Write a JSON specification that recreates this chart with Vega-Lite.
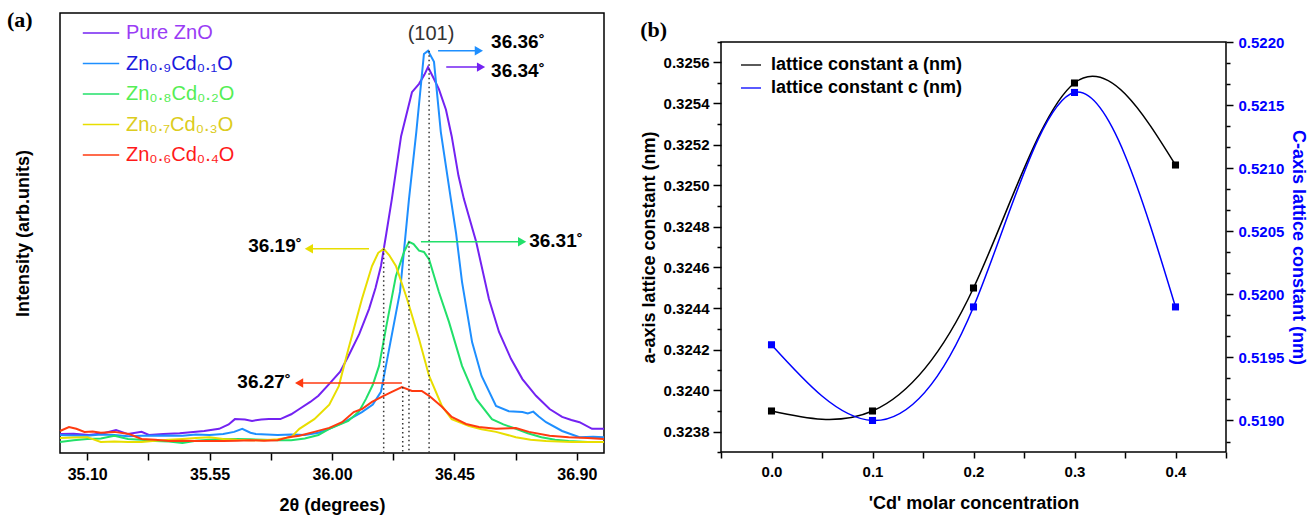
{
  "$schema": "https://vega.github.io/schema/vega-lite/v6.json",
  "background": "white",
  "padding": {"left": 6, "top": 8, "right": 0, "bottom": 0},
  "spacing": 30,
  "config": {
    "font": "Liberation Sans",
    "view": {"stroke": "#000", "strokeWidth": 1.5},
    "axis": {"grid": false, "domain": false, "tickColor": "#000", "tickWidth": 1.5, "labelColor": "#000", "labelFont": "Liberation Sans", "labelFontWeight": "bold", "labelFontSize": 15, "titleFont": "Liberation Sans", "titleFontWeight": "bold", "titleFontSize": 18, "titleColor": "#000"}
  },
  "resolve": {"scale": {"color": "independent"}, "legend": {"color": "independent"}},
  "datasets": {
    "xrd": [
      {"s":"Pure ZnO","x":35.00,"y":4.3},{"s":"Pure ZnO","x":35.05,"y":4.4},{"s":"Pure ZnO","x":35.107,"y":4.1},{"s":"Pure ZnO","x":35.16,"y":4.5},{"s":"Pure ZnO","x":35.206,"y":5.2},{"s":"Pure ZnO","x":35.25,"y":4.3},{"s":"Pure ZnO","x":35.30,"y":4.8},{"s":"Pure ZnO","x":35.327,"y":4.1},{"s":"Pure ZnO","x":35.38,"y":4.3},{"s":"Pure ZnO","x":35.44,"y":4.5},{"s":"Pure ZnO","x":35.49,"y":4.8},{"s":"Pure ZnO","x":35.53,"y":5.0},{"s":"Pure ZnO","x":35.585,"y":5.5},{"s":"Pure ZnO","x":35.62,"y":6.5},{"s":"Pure ZnO","x":35.643,"y":7.7},{"s":"Pure ZnO","x":35.68,"y":7.6},{"s":"Pure ZnO","x":35.706,"y":7.3},{"s":"Pure ZnO","x":35.74,"y":7.6},{"s":"Pure ZnO","x":35.768,"y":7.7},{"s":"Pure ZnO","x":35.81,"y":7.7},{"s":"Pure ZnO","x":35.85,"y":8.8},{"s":"Pure ZnO","x":35.88,"y":10.0},{"s":"Pure ZnO","x":35.92,"y":11.6},{"s":"Pure ZnO","x":35.95,"y":13.0},{"s":"Pure ZnO","x":35.99,"y":15.7},{"s":"Pure ZnO","x":36.03,"y":18.5},{"s":"Pure ZnO","x":36.06,"y":22.0},{"s":"Pure ZnO","x":36.10,"y":27.0},{"s":"Pure ZnO","x":36.136,"y":32.7},{"s":"Pure ZnO","x":36.16,"y":37.5},{"s":"Pure ZnO","x":36.18,"y":42.5},{"s":"Pure ZnO","x":36.20,"y":50.0},{"s":"Pure ZnO","x":36.22,"y":57.7},{"s":"Pure ZnO","x":36.254,"y":72.0},{"s":"Pure ZnO","x":36.294,"y":82.0},{"s":"Pure ZnO","x":36.32,"y":83.9},{"s":"Pure ZnO","x":36.34,"y":86.0},{"s":"Pure ZnO","x":36.353,"y":87.7},{"s":"Pure ZnO","x":36.375,"y":85.0},{"s":"Pure ZnO","x":36.393,"y":82.7},{"s":"Pure ZnO","x":36.419,"y":78.0},{"s":"Pure ZnO","x":36.44,"y":72.0},{"s":"Pure ZnO","x":36.465,"y":63.0},{"s":"Pure ZnO","x":36.485,"y":57.7},{"s":"Pure ZnO","x":36.53,"y":48.0},{"s":"Pure ZnO","x":36.577,"y":35.0},{"s":"Pure ZnO","x":36.614,"y":27.5},{"s":"Pure ZnO","x":36.658,"y":21.4},{"s":"Pure ZnO","x":36.70,"y":16.8},{"s":"Pure ZnO","x":36.75,"y":13.0},{"s":"Pure ZnO","x":36.80,"y":10.0},{"s":"Pure ZnO","x":36.846,"y":8.2},{"s":"Pure ZnO","x":36.88,"y":7.5},{"s":"Pure ZnO","x":36.91,"y":7.0},{"s":"Pure ZnO","x":36.956,"y":5.5},{"s":"Pure ZnO","x":37.00,"y":5.5},
      {"s":"Zn₀.₉Cd₀.₁O","x":35.00,"y":4.1},{"s":"Zn₀.₉Cd₀.₁O","x":35.05,"y":4.0},{"s":"Zn₀.₉Cd₀.₁O","x":35.10,"y":3.9},{"s":"Zn₀.₉Cd₀.₁O","x":35.15,"y":4.2},{"s":"Zn₀.₉Cd₀.₁O","x":35.20,"y":4.1},{"s":"Zn₀.₉Cd₀.₁O","x":35.25,"y":3.8},{"s":"Zn₀.₉Cd₀.₁O","x":35.30,"y":3.9},{"s":"Zn₀.₉Cd₀.₁O","x":35.38,"y":4.0},{"s":"Zn₀.₉Cd₀.₁O","x":35.45,"y":3.9},{"s":"Zn₀.₉Cd₀.₁O","x":35.50,"y":4.2},{"s":"Zn₀.₉Cd₀.₁O","x":35.55,"y":4.1},{"s":"Zn₀.₉Cd₀.₁O","x":35.60,"y":4.3},{"s":"Zn₀.₉Cd₀.₁O","x":35.64,"y":4.8},{"s":"Zn₀.₉Cd₀.₁O","x":35.67,"y":5.5},{"s":"Zn₀.₉Cd₀.₁O","x":35.70,"y":4.6},{"s":"Zn₀.₉Cd₀.₁O","x":35.72,"y":4.3},{"s":"Zn₀.₉Cd₀.₁O","x":35.76,"y":4.2},{"s":"Zn₀.₉Cd₀.₁O","x":35.80,"y":4.1},{"s":"Zn₀.₉Cd₀.₁O","x":35.85,"y":4.2},{"s":"Zn₀.₉Cd₀.₁O","x":35.90,"y":4.1},{"s":"Zn₀.₉Cd₀.₁O","x":35.95,"y":4.6},{"s":"Zn₀.₉Cd₀.₁O","x":35.99,"y":5.5},{"s":"Zn₀.₉Cd₀.₁O","x":36.05,"y":7.2},{"s":"Zn₀.₉Cd₀.₁O","x":36.11,"y":9.3},{"s":"Zn₀.₉Cd₀.₁O","x":36.15,"y":11.0},{"s":"Zn₀.₉Cd₀.₁O","x":36.18,"y":13.9},{"s":"Zn₀.₉Cd₀.₁O","x":36.21,"y":23.6},{"s":"Zn₀.₉Cd₀.₁O","x":36.25,"y":36.6},{"s":"Zn₀.₉Cd₀.₁O","x":36.283,"y":57.7},{"s":"Zn₀.₉Cd₀.₁O","x":36.31,"y":73.0},{"s":"Zn₀.₉Cd₀.₁O","x":36.338,"y":90.7},{"s":"Zn₀.₉Cd₀.₁O","x":36.353,"y":91.4},{"s":"Zn₀.₉Cd₀.₁O","x":36.375,"y":88.9},{"s":"Zn₀.₉Cd₀.₁O","x":36.40,"y":73.0},{"s":"Zn₀.₉Cd₀.₁O","x":36.437,"y":57.7},{"s":"Zn₀.₉Cd₀.₁O","x":36.456,"y":50.0},{"s":"Zn₀.₉Cd₀.₁O","x":36.478,"y":38.9},{"s":"Zn₀.₉Cd₀.₁O","x":36.515,"y":25.2},{"s":"Zn₀.₉Cd₀.₁O","x":36.55,"y":17.5},{"s":"Zn₀.₉Cd₀.₁O","x":36.603,"y":10.7},{"s":"Zn₀.₉Cd₀.₁O","x":36.65,"y":9.5},{"s":"Zn₀.₉Cd₀.₁O","x":36.70,"y":9.3},{"s":"Zn₀.₉Cd₀.₁O","x":36.72,"y":9.0},{"s":"Zn₀.₉Cd₀.₁O","x":36.74,"y":9.4},{"s":"Zn₀.₉Cd₀.₁O","x":36.76,"y":8.3},{"s":"Zn₀.₉Cd₀.₁O","x":36.787,"y":7.0},{"s":"Zn₀.₉Cd₀.₁O","x":36.846,"y":5.0},{"s":"Zn₀.₉Cd₀.₁O","x":36.91,"y":3.6},{"s":"Zn₀.₉Cd₀.₁O","x":36.96,"y":3.7},{"s":"Zn₀.₉Cd₀.₁O","x":37.00,"y":3.6},
      {"s":"Zn₀.₈Cd₀.₂O","x":35.00,"y":2.5},{"s":"Zn₀.₈Cd₀.₂O","x":35.05,"y":2.9},{"s":"Zn₀.₈Cd₀.₂O","x":35.10,"y":3.2},{"s":"Zn₀.₈Cd₀.₂O","x":35.15,"y":3.3},{"s":"Zn₀.₈Cd₀.₂O","x":35.20,"y":3.9},{"s":"Zn₀.₈Cd₀.₂O","x":35.25,"y":3.2},{"s":"Zn₀.₈Cd₀.₂O","x":35.30,"y":3.0},{"s":"Zn₀.₈Cd₀.₂O","x":35.35,"y":2.7},{"s":"Zn₀.₈Cd₀.₂O","x":35.40,"y":2.6},{"s":"Zn₀.₈Cd₀.₂O","x":35.45,"y":2.3},{"s":"Zn₀.₈Cd₀.₂O","x":35.50,"y":2.8},{"s":"Zn₀.₈Cd₀.₂O","x":35.55,"y":3.0},{"s":"Zn₀.₈Cd₀.₂O","x":35.60,"y":3.2},{"s":"Zn₀.₈Cd₀.₂O","x":35.65,"y":3.2},{"s":"Zn₀.₈Cd₀.₂O","x":35.70,"y":3.1},{"s":"Zn₀.₈Cd₀.₂O","x":35.75,"y":3.0},{"s":"Zn₀.₈Cd₀.₂O","x":35.80,"y":2.9},{"s":"Zn₀.₈Cd₀.₂O","x":35.85,"y":2.9},{"s":"Zn₀.₈Cd₀.₂O","x":35.90,"y":3.3},{"s":"Zn₀.₈Cd₀.₂O","x":35.95,"y":4.1},{"s":"Zn₀.₈Cd₀.₂O","x":35.99,"y":5.5},{"s":"Zn₀.₈Cd₀.₂O","x":36.06,"y":7.3},{"s":"Zn₀.₈Cd₀.₂O","x":36.10,"y":9.5},{"s":"Zn₀.₈Cd₀.₂O","x":36.125,"y":12.3},{"s":"Zn₀.₈Cd₀.₂O","x":36.15,"y":15.5},{"s":"Zn₀.₈Cd₀.₂O","x":36.173,"y":19.8},{"s":"Zn₀.₈Cd₀.₂O","x":36.20,"y":28.9},{"s":"Zn₀.₈Cd₀.₂O","x":36.235,"y":40.2},{"s":"Zn₀.₈Cd₀.₂O","x":36.265,"y":45.7},{"s":"Zn₀.₈Cd₀.₂O","x":36.283,"y":48.0},{"s":"Zn₀.₈Cd₀.₂O","x":36.30,"y":47.5},{"s":"Zn₀.₈Cd₀.₂O","x":36.32,"y":46.0},{"s":"Zn₀.₈Cd₀.₂O","x":36.338,"y":45.7},{"s":"Zn₀.₈Cd₀.₂O","x":36.357,"y":44.0},{"s":"Zn₀.₈Cd₀.₂O","x":36.393,"y":36.6},{"s":"Zn₀.₈Cd₀.₂O","x":36.43,"y":29.8},{"s":"Zn₀.₈Cd₀.₂O","x":36.478,"y":19.8},{"s":"Zn₀.₈Cd₀.₂O","x":36.53,"y":12.3},{"s":"Zn₀.₈Cd₀.₂O","x":36.588,"y":7.7},{"s":"Zn₀.₈Cd₀.₂O","x":36.63,"y":6.5},{"s":"Zn₀.₈Cd₀.₂O","x":36.676,"y":5.5},{"s":"Zn₀.₈Cd₀.₂O","x":36.72,"y":4.5},{"s":"Zn₀.₈Cd₀.₂O","x":36.77,"y":3.6},{"s":"Zn₀.₈Cd₀.₂O","x":36.82,"y":3.0},{"s":"Zn₀.₈Cd₀.₂O","x":36.87,"y":2.7},{"s":"Zn₀.₈Cd₀.₂O","x":36.94,"y":2.5},{"s":"Zn₀.₈Cd₀.₂O","x":37.00,"y":2.5},
      {"s":"Zn₀.₇Cd₀.₃O","x":35.00,"y":3.4},{"s":"Zn₀.₇Cd₀.₃O","x":35.05,"y":3.5},{"s":"Zn₀.₇Cd₀.₃O","x":35.10,"y":3.6},{"s":"Zn₀.₇Cd₀.₃O","x":35.15,"y":2.5},{"s":"Zn₀.₇Cd₀.₃O","x":35.20,"y":2.6},{"s":"Zn₀.₇Cd₀.₃O","x":35.25,"y":2.5},{"s":"Zn₀.₇Cd₀.₃O","x":35.30,"y":2.5},{"s":"Zn₀.₇Cd₀.₃O","x":35.35,"y":2.8},{"s":"Zn₀.₇Cd₀.₃O","x":35.40,"y":3.0},{"s":"Zn₀.₇Cd₀.₃O","x":35.45,"y":3.2},{"s":"Zn₀.₇Cd₀.₃O","x":35.50,"y":3.4},{"s":"Zn₀.₇Cd₀.₃O","x":35.55,"y":3.6},{"s":"Zn₀.₇Cd₀.₃O","x":35.60,"y":3.2},{"s":"Zn₀.₇Cd₀.₃O","x":35.65,"y":3.0},{"s":"Zn₀.₇Cd₀.₃O","x":35.70,"y":2.9},{"s":"Zn₀.₇Cd₀.₃O","x":35.75,"y":2.9},{"s":"Zn₀.₇Cd₀.₃O","x":35.80,"y":3.1},{"s":"Zn₀.₇Cd₀.₃O","x":35.85,"y":3.6},{"s":"Zn₀.₇Cd₀.₃O","x":35.88,"y":5.5},{"s":"Zn₀.₇Cd₀.₃O","x":35.935,"y":7.7},{"s":"Zn₀.₇Cd₀.₃O","x":35.99,"y":11.0},{"s":"Zn₀.₇Cd₀.₃O","x":36.025,"y":15.2},{"s":"Zn₀.₇Cd₀.₃O","x":36.06,"y":23.6},{"s":"Zn₀.₇Cd₀.₃O","x":36.11,"y":35.0},{"s":"Zn₀.₇Cd₀.₃O","x":36.147,"y":42.5},{"s":"Zn₀.₇Cd₀.₃O","x":36.17,"y":45.5},{"s":"Zn₀.₇Cd₀.₃O","x":36.19,"y":46.4},{"s":"Zn₀.₇Cd₀.₃O","x":36.21,"y":45.0},{"s":"Zn₀.₇Cd₀.₃O","x":36.235,"y":42.5},{"s":"Zn₀.₇Cd₀.₃O","x":36.276,"y":35.0},{"s":"Zn₀.₇Cd₀.₃O","x":36.32,"y":25.9},{"s":"Zn₀.₇Cd₀.₃O","x":36.357,"y":17.5},{"s":"Zn₀.₇Cd₀.₃O","x":36.404,"y":10.7},{"s":"Zn₀.₇Cd₀.₃O","x":36.44,"y":7.7},{"s":"Zn₀.₇Cd₀.₃O","x":36.504,"y":6.1},{"s":"Zn₀.₇Cd₀.₃O","x":36.55,"y":5.4},{"s":"Zn₀.₇Cd₀.₃O","x":36.603,"y":4.8},{"s":"Zn₀.₇Cd₀.₃O","x":36.676,"y":3.6},{"s":"Zn₀.₇Cd₀.₃O","x":36.73,"y":3.0},{"s":"Zn₀.₇Cd₀.₃O","x":36.787,"y":2.7},{"s":"Zn₀.₇Cd₀.₃O","x":36.88,"y":2.5},{"s":"Zn₀.₇Cd₀.₃O","x":37.00,"y":2.5},
      {"s":"Zn₀.₆Cd₀.₄O","x":35.00,"y":5.0},{"s":"Zn₀.₆Cd₀.₄O","x":35.033,"y":5.9},{"s":"Zn₀.₆Cd₀.₄O","x":35.06,"y":5.5},{"s":"Zn₀.₆Cd₀.₄O","x":35.09,"y":4.8},{"s":"Zn₀.₆Cd₀.₄O","x":35.12,"y":4.9},{"s":"Zn₀.₆Cd₀.₄O","x":35.15,"y":4.6},{"s":"Zn₀.₆Cd₀.₄O","x":35.20,"y":4.8},{"s":"Zn₀.₆Cd₀.₄O","x":35.254,"y":4.3},{"s":"Zn₀.₆Cd₀.₄O","x":35.30,"y":3.2},{"s":"Zn₀.₆Cd₀.₄O","x":35.35,"y":3.0},{"s":"Zn₀.₆Cd₀.₄O","x":35.40,"y":2.7},{"s":"Zn₀.₆Cd₀.₄O","x":35.45,"y":2.8},{"s":"Zn₀.₆Cd₀.₄O","x":35.50,"y":2.7},{"s":"Zn₀.₆Cd₀.₄O","x":35.55,"y":2.7},{"s":"Zn₀.₆Cd₀.₄O","x":35.60,"y":2.7},{"s":"Zn₀.₆Cd₀.₄O","x":35.65,"y":2.8},{"s":"Zn₀.₆Cd₀.₄O","x":35.70,"y":2.9},{"s":"Zn₀.₆Cd₀.₄O","x":35.75,"y":2.8},{"s":"Zn₀.₆Cd₀.₄O","x":35.80,"y":2.9},{"s":"Zn₀.₆Cd₀.₄O","x":35.84,"y":3.6},{"s":"Zn₀.₆Cd₀.₄O","x":35.88,"y":3.9},{"s":"Zn₀.₆Cd₀.₄O","x":35.935,"y":4.8},{"s":"Zn₀.₆Cd₀.₄O","x":35.99,"y":5.7},{"s":"Zn₀.₆Cd₀.₄O","x":36.037,"y":7.0},{"s":"Zn₀.₆Cd₀.₄O","x":36.08,"y":9.3},{"s":"Zn₀.₆Cd₀.₄O","x":36.11,"y":10.0},{"s":"Zn₀.₆Cd₀.₄O","x":36.147,"y":11.6},{"s":"Zn₀.₆Cd₀.₄O","x":36.19,"y":13.0},{"s":"Zn₀.₆Cd₀.₄O","x":36.22,"y":13.9},{"s":"Zn₀.₆Cd₀.₄O","x":36.257,"y":15.0},{"s":"Zn₀.₆Cd₀.₄O","x":36.294,"y":14.1},{"s":"Zn₀.₆Cd₀.₄O","x":36.33,"y":14.1},{"s":"Zn₀.₆Cd₀.₄O","x":36.357,"y":13.0},{"s":"Zn₀.₆Cd₀.₄O","x":36.404,"y":10.5},{"s":"Zn₀.₆Cd₀.₄O","x":36.44,"y":8.2},{"s":"Zn₀.₆Cd₀.₄O","x":36.493,"y":6.6},{"s":"Zn₀.₆Cd₀.₄O","x":36.54,"y":5.9},{"s":"Zn₀.₆Cd₀.₄O","x":36.603,"y":5.5},{"s":"Zn₀.₆Cd₀.₄O","x":36.676,"y":5.7},{"s":"Zn₀.₆Cd₀.₄O","x":36.724,"y":4.8},{"s":"Zn₀.₆Cd₀.₄O","x":36.80,"y":3.9},{"s":"Zn₀.₆Cd₀.₄O","x":36.87,"y":3.6},{"s":"Zn₀.₆Cd₀.₄O","x":36.94,"y":3.4},{"s":"Zn₀.₆Cd₀.₄O","x":37.00,"y":3.2}
    ],
    "ann": [
      {"s":"Zn₀.₉Cd₀.₁O","x1":36.39,"x2":36.545,"hx":36.54,"y":91.4,"dir":"right","label":"36.36˚","lx":36.585,"ly":93.4},
      {"s":"Pure ZnO","x1":36.42,"x2":36.55,"hx":36.548,"y":87.7,"dir":"right","label":"36.34˚","lx":36.585,"ly":86.8},
      {"s":"Zn₀.₈Cd₀.₂O","x1":36.327,"x2":36.70,"hx":36.699,"y":48.0,"dir":"right","label":"36.31˚","lx":36.725,"ly":48.2},
      {"s":"Zn₀.₇Cd₀.₃O","x1":36.136,"x2":35.915,"hx":35.915,"y":46.4,"dir":"left","label":"36.19˚","lx":35.89,"ly":47.0},
      {"s":"Zn₀.₆Cd₀.₄O","x1":36.257,"x2":35.88,"hx":35.879,"y":15.9,"dir":"left","label":"36.27˚","lx":35.85,"ly":16.1}
    ],
    "drop": [
      {"x":36.19,"y":46.4},{"x":36.26,"y":15.0},{"x":36.283,"y":48.0},{"x":36.357,"y":91.4}
    ],
    "lat": [
      {"conc":0.0,"p":"a","name":"lattice constant a (nm)","v":0.3239},
      {"conc":0.1,"p":"a","name":"lattice constant a (nm)","v":0.3239},
      {"conc":0.2,"p":"a","name":"lattice constant a (nm)","v":0.3245},
      {"conc":0.3,"p":"a","name":"lattice constant a (nm)","v":0.3255},
      {"conc":0.4,"p":"a","name":"lattice constant a (nm)","v":0.3251},
      {"conc":0.0,"p":"c","name":"lattice constant c (nm)","v":0.5196},
      {"conc":0.1,"p":"c","name":"lattice constant c (nm)","v":0.5190},
      {"conc":0.2,"p":"c","name":"lattice constant c (nm)","v":0.5199},
      {"conc":0.3,"p":"c","name":"lattice constant c (nm)","v":0.5216},
      {"conc":0.4,"p":"c","name":"lattice constant c (nm)","v":0.5199}
    ]
  },
  "hconcat": [
    {
      "width": 544,
      "height": 440,
      "encoding": {
        "x": {"type": "quantitative", "scale": {"domain": [35.0, 37.0], "nice": false, "zero": false}},
        "y": {"type": "quantitative", "scale": {"domain": [0, 100], "nice": false}}
      },
      "layer": [
        {
          "data": {"name": "xrd"},
          "mark": {"type": "line", "strokeWidth": 2},
          "encoding": {
            "x": {"field": "x", "type": "quantitative", "axis": {"values": [35.1, 35.325, 35.55, 35.775, 36.0, 36.225, 36.45, 36.675, 36.9], "format": ".2f", "labelExpr": "indexof(['35.10','35.55','36.00','36.45','36.90'], datum.label) >= 0 ? datum.label : ''", "tickSize": 7, "labelPadding": 6, "labelFontSize": 16, "title": "2θ (degrees)", "titlePadding": 14}},
            "y": {"field": "y", "type": "quantitative", "axis": {"labels": false, "ticks": false, "title": "Intensity (arb.units)", "titlePadding": 28}},
            "color": {
              "field": "s", "type": "nominal",
              "scale": {"domain": ["Pure ZnO", "Zn₀.₉Cd₀.₁O", "Zn₀.₈Cd₀.₂O", "Zn₀.₇Cd₀.₃O", "Zn₀.₆Cd₀.₄O"], "range": ["#7322f2", "#1e8fff", "#22e06a", "#e8de00", "#ff3a10"]},
              "legend": {"orient": "none", "legendX": 26, "legendY": 5, "title": null, "symbolType": "M-1.3,0H1.3", "symbolSize": 784, "symbolStrokeWidth": 1.5, "labelFont": "Liberation Sans", "labelFontSize": 20, "labelFontWeight": "normal", "labelOffset": 10, "rowPadding": 5.5, "labelLimit": 300,
                "labelColor": {"expr": "datum.value == 'Pure ZnO' ? '#9a3cf5' : indexof(datum.value, '₉') >= 0 ? '#1a1add' : indexof(datum.value, '₈') >= 0 ? '#55ee55' : indexof(datum.value, '₇') >= 0 ? '#dccc20' : '#ff1a1a'"}}
            }
          }
        },
        {
          "data": {"name": "drop"},
          "mark": {"type": "rule", "color": "#333", "strokeWidth": 1.5, "strokeDash": [1.5, 3]},
          "encoding": {"x": {"field": "x"}, "y": {"field": "y"}, "y2": {"datum": 0}}
        },
        {
          "data": {"name": "ann"},
          "mark": {"type": "rule", "strokeWidth": 1.5},
          "encoding": {"x": {"field": "x1"}, "x2": {"field": "x2"}, "y": {"field": "y"}, "color": {"field": "s", "type": "nominal", "legend": null}}
        },
        {
          "data": {"name": "ann"},
          "mark": {"type": "point", "filled": true, "opacity": 1, "size": 90},
          "encoding": {
            "x": {"field": "hx"}, "y": {"field": "y"},
            "color": {"field": "s", "type": "nominal", "legend": null},
            "shape": {"field": "dir", "type": "nominal", "scale": {"domain": ["right", "left"], "range": ["triangle-right", "triangle-left"]}, "legend": null}
          }
        },
        {
          "data": {"name": "ann"},
          "transform": [{"filter": "datum.dir == 'right'"}],
          "mark": {"type": "text", "align": "left", "baseline": "middle", "fontSize": 19, "fontWeight": "bold", "font": "Liberation Sans", "color": "#000"},
          "encoding": {"x": {"field": "lx"}, "y": {"field": "ly"}, "text": {"field": "label"}}
        },
        {
          "data": {"name": "ann"},
          "transform": [{"filter": "datum.dir == 'left'"}],
          "mark": {"type": "text", "align": "right", "baseline": "middle", "fontSize": 19, "fontWeight": "bold", "font": "Liberation Sans", "color": "#000"},
          "encoding": {"x": {"field": "lx"}, "y": {"field": "ly"}, "text": {"field": "label"}}
        },
        {
          "data": {"values": [{"t": "(101)", "x": 36.364, "y": 95.2}]},
          "mark": {"type": "text", "align": "center", "baseline": "middle", "fontSize": 20, "font": "Liberation Sans", "color": "#333"},
          "encoding": {"x": {"field": "x"}, "y": {"field": "y"}, "text": {"field": "t"}}
        },
        {
          "data": {"values": [{"t": "(a)", "x": 34.805, "y": 96.8}]},
          "mark": {"type": "text", "align": "left", "baseline": "alphabetic", "fontSize": 22, "fontWeight": "bold", "font": "Liberation Serif", "color": "#000"},
          "encoding": {"x": {"field": "x"}, "y": {"field": "y"}, "text": {"field": "t"}}
        }
      ]
    },
    {
      "spacing": 2,
      "vconcat": [
        {
          "width": 505,
          "height": 3,
          "view": {"stroke": null},
          "data": {"values": []},
          "mark": "point"
        },
        {
          "width": 505,
          "height": 410,
          "data": {"name": "lat"},
          "encoding": {
            "x": {"field": "conc", "type": "quantitative", "scale": {"domain": [-0.05, 0.45], "nice": false, "zero": false},
              "axis": {"values": [-0.05, 0, 0.05, 0.1, 0.15, 0.2, 0.25, 0.3, 0.35, 0.4, 0.45], "labelExpr": "round(datum.value*20) % 2 == 0 ? format(datum.value, '.1f') : ''", "tickSize": 6, "labelPadding": 6, "title": "'Cd' molar concentration", "titlePadding": 15}}
          },
          "layer": [
            {
              "transform": [{"filter": "datum.p == 'a'"}],
              "encoding": {
                "y": {"field": "v", "type": "quantitative", "scale": {"domain": [0.3237, 0.3257], "nice": false, "zero": false},
                  "axis": {"orient": "left", "values": [0.3237,0.3238,0.3239,0.324,0.3241,0.3242,0.3243,0.3244,0.3245,0.3246,0.3247,0.3248,0.3249,0.325,0.3251,0.3252,0.3253,0.3254,0.3255,0.3256,0.3257], "labelExpr": "round(datum.value*10000) % 2 == 0 ? format(datum.value, '.4f') : ''", "tickSize": {"condition": {"test": "round(datum.value*10000) % 2 == 0", "value": 8}, "value": 4}, "labelPadding": 4, "title": "a-axis lattice constant (nm)", "titlePadding": 5}}
              },
              "layer": [
                {
                  "mark": {"type": "line", "interpolate": "natural", "strokeWidth": 1.5},
                  "encoding": {"color": {"field": "name", "type": "nominal", "scale": {"domain": ["lattice constant a (nm)", "lattice constant c (nm)"], "range": ["#000000", "#0000ff"]},
                    "legend": {"orient": "none", "legendX": 19, "legendY": 41, "title": null, "symbolType": "stroke", "symbolSize": 400, "symbolStrokeWidth": 1.3, "labelFont": "Liberation Sans", "labelFontSize": 18, "labelFontWeight": "bold", "labelColor": "#000", "labelOffset": 9, "rowPadding": 3, "labelLimit": 400}}}
                },
                {"mark": {"type": "square", "size": 50, "filled": true, "opacity": 1, "color": "#000"}},
                {
                  "data": {"values": [{"t": "(b)", "x": -0.13, "y": 0.325724}]},
                  "mark": {"type": "text", "align": "left", "baseline": "alphabetic", "fontSize": 22, "fontWeight": "bold", "font": "Liberation Serif", "color": "#000"},
                  "encoding": {"x": {"field": "x", "type": "quantitative"}, "y": {"field": "y", "type": "quantitative"}, "text": {"field": "t"}}
                }
              ]
            },
            {
              "transform": [{"filter": "datum.p == 'c'"}],
              "encoding": {
                "y": {"field": "v", "type": "quantitative", "scale": {"domain": [0.51875, 0.522], "nice": false, "zero": false},
                  "axis": {"orient": "right", "values": [0.518833,0.519,0.519167,0.519333,0.5195,0.519667,0.519833,0.52,0.520167,0.520333,0.5205,0.520667,0.520833,0.521,0.521167,0.521333,0.5215,0.521667,0.521833,0.522], "labelExpr": "abs(datum.value*2000 - round(datum.value*2000)) < 0.05 ? format(datum.value, '.4f') : ''", "tickSize": {"condition": {"test": "abs(datum.value*2000 - round(datum.value*2000)) < 0.05", "value": 7}, "value": 4}, "labelPadding": 5, "labelColor": "#0000ff", "title": "C-axis lattice constant (nm)", "titleColor": "#0000ff", "titlePadding": 5}}
              },
              "layer": [
                {
                  "mark": {"type": "line", "interpolate": "natural", "strokeWidth": 1.5},
                  "encoding": {"color": {"field": "name", "type": "nominal"}}
                },
                {"mark": {"type": "square", "size": 50, "filled": true, "opacity": 1, "color": "#0000ff"}}
              ]
            }
          ],
          "resolve": {"scale": {"y": "independent"}}
        }
      ]
    }
  ]
}
